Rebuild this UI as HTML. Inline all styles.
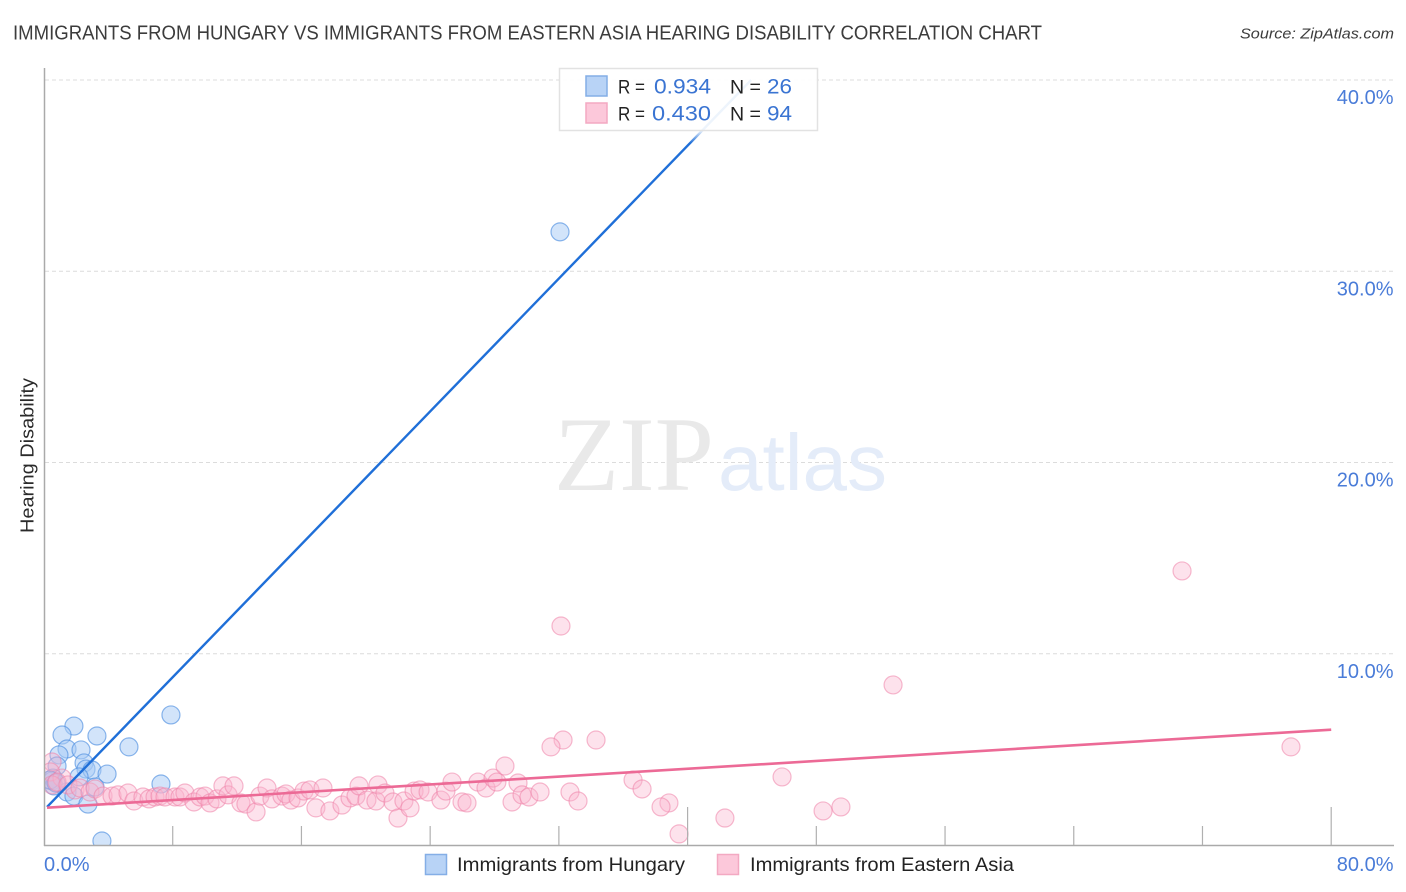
<!DOCTYPE html>
<html>
<head>
<meta charset="utf-8">
<title>Hearing Disability Correlation Chart</title>
<style>
html,body{margin:0;padding:0;background:#fff;}
svg{display:block;font-family:"Liberation Sans",sans-serif;}
</style>
</head>
<body>
<svg id="chart" xmlns="http://www.w3.org/2000/svg" width="1406" height="892" viewBox="0 0 1406 892">
  <defs>
    <clipPath id="plot-clip"><rect x="45" y="60" width="1349" height="785"></rect></clipPath>
    <linearGradient id="fade" x1="0" y1="0" x2="0" y2="1">
      <stop offset="0" stop-color="#fff" stop-opacity="0.95"></stop>
      <stop offset="1" stop-color="#fff" stop-opacity="0"></stop>
    </linearGradient>
  </defs>
  <rect x="0" y="0" width="1406" height="892" fill="#fff"></rect>
  <text x="13" y="39.5" font-size="20" fill="#3c3c3c" textLength="1029" lengthAdjust="spacingAndGlyphs">IMMIGRANTS FROM HUNGARY VS IMMIGRANTS FROM EASTERN ASIA HEARING DISABILITY CORRELATION CHART</text>
  <text x="1240" y="38.5" font-size="15" font-style="italic" fill="#3c3c3c" textLength="154" lengthAdjust="spacingAndGlyphs">Source: ZipAtlas.com</text>
  <g id="grid"></g>
  <g>
    <text x="554" y="490" font-family="'Liberation Serif',serif" font-size="106" fill="#e9e9e9" textLength="160" lengthAdjust="spacingAndGlyphs">ZIP</text>
    <text x="718" y="490" font-size="80" fill="#e4ecf9" textLength="169" lengthAdjust="spacingAndGlyphs">atlas</text>
  </g>
  <g id="points" clip-path="url(#plot-clip)"></g>
  <g id="trends"></g>
  <g id="axes"></g>
  <text x="0" y="0" transform="translate(33.5,533) rotate(-90)" font-size="18" fill="#2a2a2a" textLength="155" lengthAdjust="spacingAndGlyphs">Hearing Disability</text>

  <rect x="680" y="130" width="40" height="13" fill="url(#fade)"></rect>
  <g>
    <rect x="559.5" y="68.5" width="258" height="62" fill="#fff" fill-opacity="0.92" stroke="#e2e2e2" stroke-width="1.5"></rect>
    <rect x="586" y="76" width="21" height="20" fill="#b8d3f6" stroke="#84aee6" stroke-width="1.5"></rect>
    <rect x="586" y="103" width="21" height="20" fill="#fcc8da" stroke="#f3a9c2" stroke-width="1.5"></rect>
    <text x="618" y="93.5" font-size="19" fill="#222" textLength="27" lengthAdjust="spacingAndGlyphs">R =</text>
    <text x="654" y="93.5" font-size="21" fill="#3a74d2" textLength="57" lengthAdjust="spacingAndGlyphs">0.934</text>
    <text x="730" y="93.5" font-size="19" fill="#222" textLength="31" lengthAdjust="spacingAndGlyphs">N =</text>
    <text x="767" y="93.5" font-size="21" fill="#3a74d2" textLength="25" lengthAdjust="spacingAndGlyphs">26</text>
    <text x="618" y="120.5" font-size="19" fill="#222" textLength="27" lengthAdjust="spacingAndGlyphs">R =</text>
    <text x="652" y="120.5" font-size="21" fill="#3a74d2" textLength="59" lengthAdjust="spacingAndGlyphs">0.430</text>
    <text x="730" y="120.5" font-size="19" fill="#222" textLength="31" lengthAdjust="spacingAndGlyphs">N =</text>
    <text x="767" y="120.5" font-size="21" fill="#3a74d2" textLength="25" lengthAdjust="spacingAndGlyphs">94</text>
  </g>

  <g>
    <rect x="425.5" y="854.5" width="21" height="20" fill="#b8d3f6" stroke="#84aee6" stroke-width="1.5"></rect>
    <text x="457" y="871" font-size="19.5" fill="#222" textLength="228" lengthAdjust="spacingAndGlyphs">Immigrants from Hungary</text>
    <rect x="717.5" y="854.5" width="21" height="20" fill="#fcc8da" stroke="#f3a9c2" stroke-width="1.5"></rect>
    <text x="750" y="871" font-size="19.5" fill="#222" textLength="264" lengthAdjust="spacingAndGlyphs">Immigrants from Eastern Asia</text>
  </g>
</svg>
<script>
const hungaryX = [32.07,7.89,5.28,3.29,1.86,1.12,1.43,2.30,0.93,0.81,2.49,2.61,2.98,3.92,2.18,7.27,0.56,0.50,0.62,3.17,1.43,1.86,2.73,3.60,0.37,0.75];
const hungaryY = [32.06,6.80,5.13,5.70,6.22,5.75,5.02,4.97,4.71,4.13,4.29,3.97,3.92,3.71,3.56,3.19,3.50,3.35,3.09,3.03,2.77,2.56,2.14,0.21,3.40,3.24];
const easternAsiaX = [0.50,0.40,1.12,0.50,0.81,1.49,1.93,2.24,2.86,3.17,3.67,4.23,4.60,5.22,5.59,6.15,6.53,6.90,7.21,7.52,8.14,8.45,8.76,9.32,9.70,10.01,10.32,10.75,11.12,11.44,11.81,12.24,12.55,13.18,13.42,13.86,14.17,14.79,15.04,15.35,15.79,16.16,16.53,16.90,17.34,17.77,18.52,19.02,19.39,19.58,20.07,20.63,20.76,21.19,21.69,22.00,22.37,22.75,23.00,23.37,23.87,24.67,24.98,25.36,25.98,26.29,26.97,27.47,27.91,28.15,29.46,29.09,29.71,30.14,30.83,32.69,33.19,70.73,32.13,52.77,77.50,32.26,34.31,31.51,28.65,45.87,36.61,37.17,49.53,48.42,38.84,38.35,42.32,39.47];
const easternAsiaY = [4.34,3.82,3.50,3.14,3.29,3.14,2.88,2.98,2.77,2.93,2.56,2.56,2.62,2.72,2.30,2.51,2.41,2.51,2.56,2.51,2.51,2.51,2.72,2.25,2.51,2.56,2.20,2.41,3.09,2.62,3.09,2.20,2.14,1.73,2.56,2.98,2.41,2.56,2.67,2.35,2.46,2.82,2.88,1.94,2.98,1.78,2.09,2.46,2.56,3.09,2.35,2.30,3.14,2.72,2.25,1.41,2.30,1.94,2.82,2.88,2.77,2.35,2.82,3.29,2.25,2.20,3.29,2.98,3.50,3.29,3.24,2.25,2.62,2.51,2.77,2.77,2.30,14.33,11.45,8.37,5.13,5.49,5.49,5.13,4.13,3.56,3.40,2.93,1.99,1.78,2.20,1.99,1.41,0.58];
const hungaryTrendX = [0.19,43.95];
const hungaryTrendY = [1.99,40.0];
const easternAsiaTrendX = [0.19,80];
const easternAsiaTrendY = [1.95,6.03];
const yTickValues = [10,20,30,40];
const yTickLabels = ["10.0%","20.0%","30.0%","40.0%"];
const xTickValues = [8,16,24,32,40,48,56,64,72,80];
const xMajorTicks = [40,80];
const xAxisEnds = [0,80];
const xAxisEndLabels = ["0.0%","80.0%"];

const NS = "http://www.w3.org/2000/svg";
function sx(v){ return 44 + v * 16.09; }
function sy(v){ return 845 - v * 19.125; }
function mk(tag, attrs, parent){
  const el = document.createElementNS(NS, tag);
  for (const k in attrs) el.setAttribute(k, attrs[k]);
  parent.appendChild(el);
  return el;
}
const gridG = document.getElementById('grid');
const axesG = document.getElementById('axes');
const pointsG = document.getElementById('points');
const trendsG = document.getElementById('trends');

yTickValues.forEach(function(v, i){
  const line = mk('line', {x1:45, x2:1394, y1:sy(v), y2:sy(v), stroke:'#dcdcdc', 'stroke-width':1, 'stroke-dasharray':'4 3'}, gridG);
  
  
  const label = mk('text', {x:1393.5, y:sy(v) + 24, 'text-anchor':'end', 'font-size':20, fill:'#4a7cd8'}, axesG);
  
  
  label.textContent = yTickLabels[i];
});

hungaryX.forEach(function(v, i){
  const c = mk('circle', {cx:sx(v), cy:sy(hungaryY[i]), r:9, fill:'#a9cbf5', 'fill-opacity':0.52, stroke:'#4f8fe0', 'stroke-opacity':0.65, 'stroke-width':1.2}, pointsG);
  
  
});
easternAsiaX.forEach(function(v, i){
  const c = mk('circle', {cx:sx(v), cy:sy(easternAsiaY[i]), r:9, fill:'#f9b4cd', 'fill-opacity':0.38, stroke:'#ee82a8', 'stroke-opacity':0.55, 'stroke-width':1.2}, pointsG);
  
  
});

const blueTrend = mk('line', {x1:sx(hungaryTrendX[0]), y1:sy(hungaryTrendY[0]), x2:sx(hungaryTrendX[1]), y2:sy(hungaryTrendY[1]), stroke:'#1f6fd8', 'stroke-width':2.4}, trendsG);


const pinkTrend = mk('line', {x1:sx(easternAsiaTrendX[0]), y1:sy(easternAsiaTrendY[0]), x2:sx(easternAsiaTrendX[1]), y2:sy(easternAsiaTrendY[1]), stroke:'#ec6a96', 'stroke-width':2.6}, trendsG);



const yAxis = mk('line', {x1:44.5, x2:44.5, y1:68, y2:846, stroke:'#aaa', 'stroke-width':1.5}, axesG);


const xAxis = mk('line', {x1:44, x2:1394, y1:845.5, y2:845.5, stroke:'#aaa', 'stroke-width':1.5}, axesG);



xTickValues.forEach(function(v){
  const top = xMajorTicks.indexOf(v) >= 0 ? 807 : 826;
  const t = mk('line', {x1:sx(v), x2:sx(v), y1:top, y2:845, stroke:'#b0b0b0', 'stroke-width':1.2}, axesG);
  
  
});
xAxisEnds.forEach(function(v, i){
  const anchor = i === 0 ? 'start' : 'end';
  const px = i === 0 ? sx(v) : 1393.5;
  const label = mk('text', {x:px, y:871, 'text-anchor':anchor, 'font-size':20, fill:'#4a7cd8'}, axesG);
  
  
  label.textContent = xAxisEndLabels[i];
});
</script>
</body>
</html>
